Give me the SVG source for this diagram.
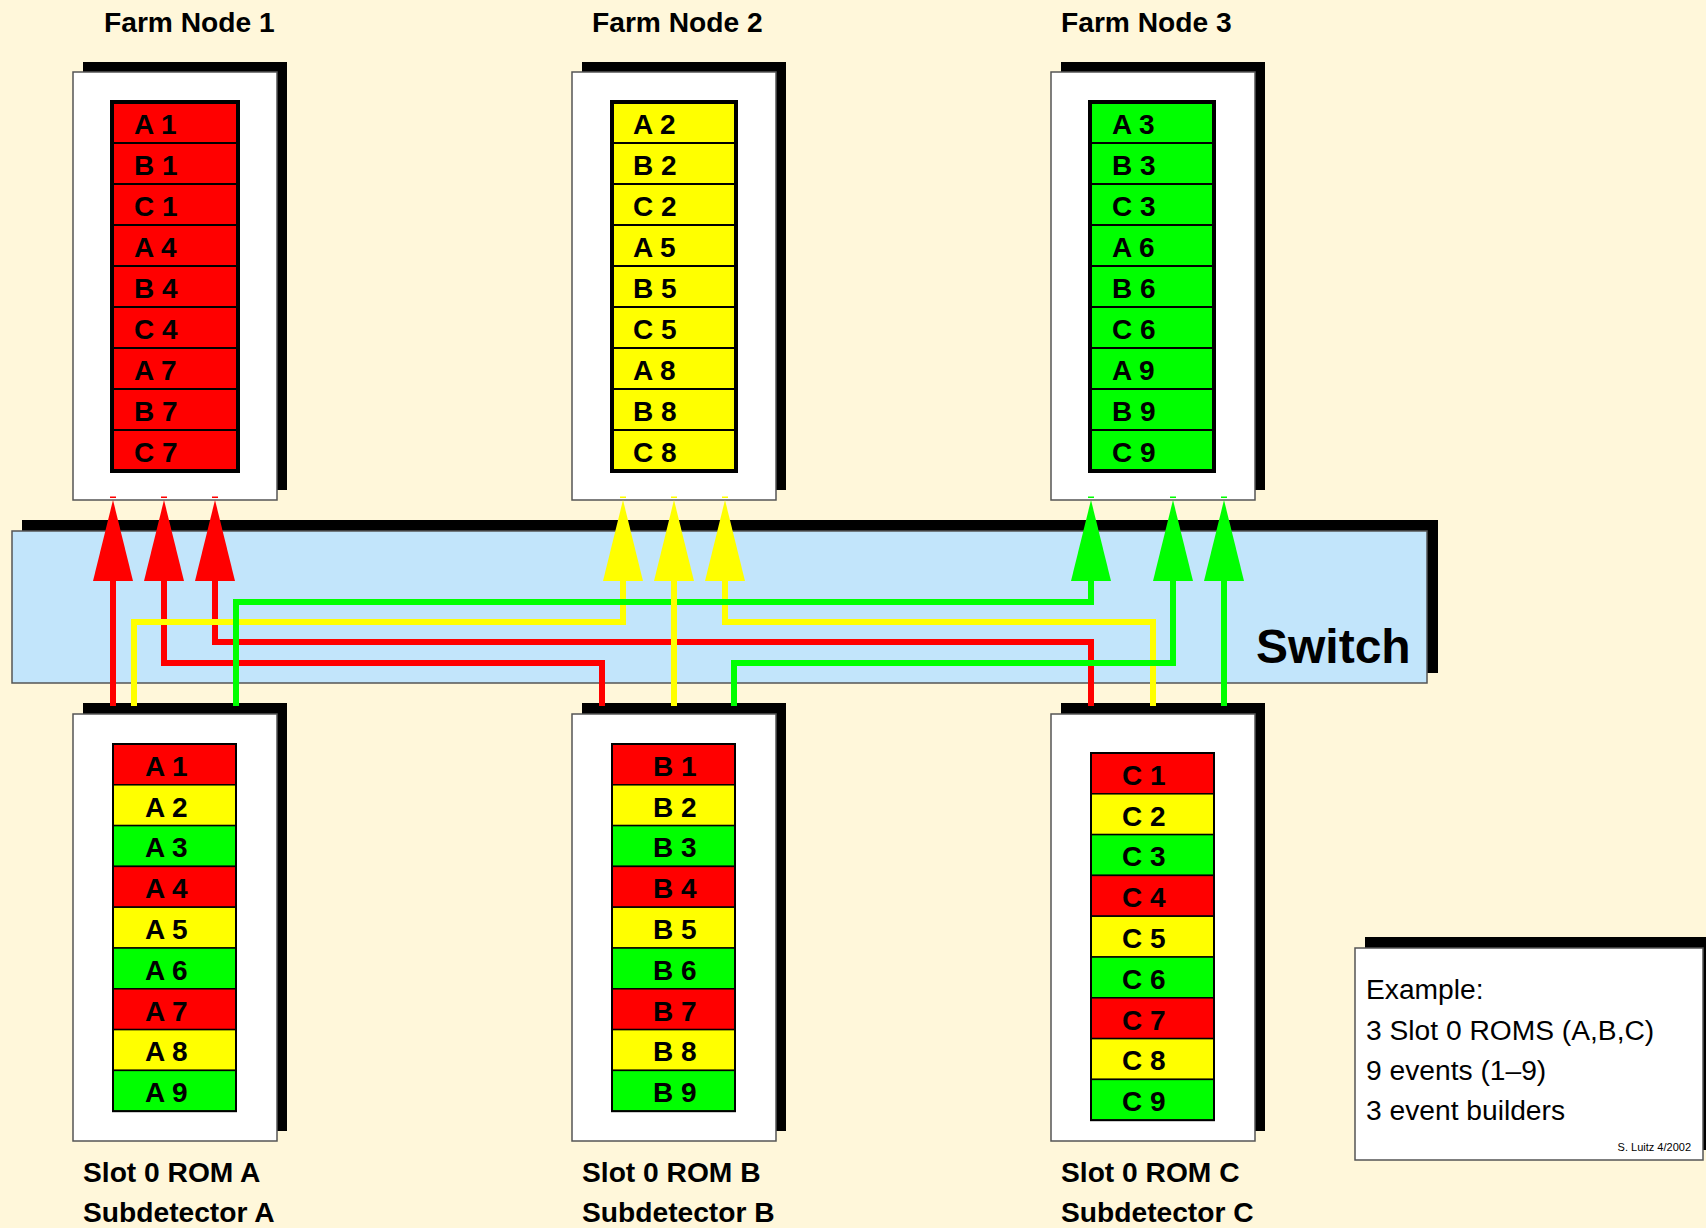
<svg xmlns="http://www.w3.org/2000/svg" width="1706" height="1228" viewBox="0 0 1706 1228">
<style>
.bg{fill:#FFF7DA}
.sh{fill:#000}
.box{fill:#fff;stroke:#555;stroke-width:1.5}
.lbl{font-family:"Liberation Sans",Arial,sans-serif;font-weight:bold;font-size:28.2px;fill:#000}
.cell{font-family:"Liberation Sans",Arial,sans-serif;font-weight:bold;font-size:28px;fill:#000}
.r{fill:#FF0000}.y{fill:#FFFF00}.g{fill:#00FF00}
.fr{stroke:#000;stroke-width:2}
.rr{stroke:#000;stroke-width:1.5}
.outer{fill:none;stroke:#000;stroke-width:4}
.outer2{fill:none;stroke:#000;stroke-width:2}
.lr{fill:none;stroke:#FF0000;stroke-width:6}
.ly{fill:none;stroke:#FFFF00;stroke-width:6}
.lg{fill:none;stroke:#00FF00;stroke-width:6}
.leg{font-family:"Liberation Sans",Arial,sans-serif;font-size:28.2px;fill:#000}
</style>
<rect class="bg" x="0" y="0" width="1706" height="1228"/>

<g id="switch">
<rect class="sh" x="22" y="520" width="1416" height="153"/>
<rect x="12" y="531" width="1415" height="152" fill="#C2E5FB" stroke="#555" stroke-width="1.5"/>
<text x="1256" y="663" font-family="Liberation Sans, Arial, sans-serif" font-weight="bold" font-size="48" fill="#000">Switch</text>
</g>

<g id="farm1">
<text class="lbl" x="104" y="32">Farm Node 1</text>
<rect class="sh" x="83" y="62" width="204" height="428"/>
<rect class="box" x="73" y="72" width="204" height="428"/>
<g class="fr">
<rect class="r" x="112" y="102" width="126" height="41"/>
<rect class="r" x="112" y="143" width="126" height="41"/>
<rect class="r" x="112" y="184" width="126" height="41"/>
<rect class="r" x="112" y="225" width="126" height="41"/>
<rect class="r" x="112" y="266" width="126" height="41"/>
<rect class="r" x="112" y="307" width="126" height="41"/>
<rect class="r" x="112" y="348" width="126" height="41"/>
<rect class="r" x="112" y="389" width="126" height="41"/>
<rect class="r" x="112" y="430" width="126" height="41"/>
</g>
<rect class="outer" x="112" y="102" width="126" height="369"/>
<g class="cell">
<text x="134" y="134">A 1</text><text x="134" y="175">B 1</text><text x="134" y="216">C 1</text>
<text x="134" y="257">A 4</text><text x="134" y="298">B 4</text><text x="134" y="339">C 4</text>
<text x="134" y="380">A 7</text><text x="134" y="421">B 7</text><text x="134" y="462">C 7</text>
</g>
</g>

<g id="farm2">
<text class="lbl" x="592" y="32">Farm Node 2</text>
<rect class="sh" x="582" y="62" width="204" height="428"/>
<rect class="box" x="572" y="72" width="204" height="428"/>
<g class="fr">
<rect class="y" x="612" y="102" width="124" height="41"/>
<rect class="y" x="612" y="143" width="124" height="41"/>
<rect class="y" x="612" y="184" width="124" height="41"/>
<rect class="y" x="612" y="225" width="124" height="41"/>
<rect class="y" x="612" y="266" width="124" height="41"/>
<rect class="y" x="612" y="307" width="124" height="41"/>
<rect class="y" x="612" y="348" width="124" height="41"/>
<rect class="y" x="612" y="389" width="124" height="41"/>
<rect class="y" x="612" y="430" width="124" height="41"/>
</g>
<rect class="outer" x="612" y="102" width="124" height="369"/>
<g class="cell">
<text x="633" y="134">A 2</text><text x="633" y="175">B 2</text><text x="633" y="216">C 2</text>
<text x="633" y="257">A 5</text><text x="633" y="298">B 5</text><text x="633" y="339">C 5</text>
<text x="633" y="380">A 8</text><text x="633" y="421">B 8</text><text x="633" y="462">C 8</text>
</g>
</g>

<g id="farm3">
<text class="lbl" x="1061" y="32">Farm Node 3</text>
<rect class="sh" x="1061" y="62" width="204" height="428"/>
<rect class="box" x="1051" y="72" width="204" height="428"/>
<g class="fr">
<rect class="g" x="1090" y="102" width="124" height="41"/>
<rect class="g" x="1090" y="143" width="124" height="41"/>
<rect class="g" x="1090" y="184" width="124" height="41"/>
<rect class="g" x="1090" y="225" width="124" height="41"/>
<rect class="g" x="1090" y="266" width="124" height="41"/>
<rect class="g" x="1090" y="307" width="124" height="41"/>
<rect class="g" x="1090" y="348" width="124" height="41"/>
<rect class="g" x="1090" y="389" width="124" height="41"/>
<rect class="g" x="1090" y="430" width="124" height="41"/>
</g>
<rect class="outer" x="1090" y="102" width="124" height="369"/>
<g class="cell">
<text x="1112" y="134">A 3</text><text x="1112" y="175">B 3</text><text x="1112" y="216">C 3</text>
<text x="1112" y="257">A 6</text><text x="1112" y="298">B 6</text><text x="1112" y="339">C 6</text>
<text x="1112" y="380">A 9</text><text x="1112" y="421">B 9</text><text x="1112" y="462">C 9</text>
</g>
</g>

<g id="romA">
<rect class="sh" x="83" y="703" width="204" height="428"/>
<rect class="box" x="73" y="714" width="204" height="427"/>
<g class="rr">
<rect class="r" x="113" y="744" width="123" height="40.8"/>
<rect class="y" x="113" y="784.8" width="123" height="40.8"/>
<rect class="g" x="113" y="825.6" width="123" height="40.8"/>
<rect class="r" x="113" y="866.4" width="123" height="40.8"/>
<rect class="y" x="113" y="907.2" width="123" height="40.8"/>
<rect class="g" x="113" y="948" width="123" height="40.8"/>
<rect class="r" x="113" y="988.8" width="123" height="40.8"/>
<rect class="y" x="113" y="1029.6" width="123" height="40.8"/>
<rect class="g" x="113" y="1070.4" width="123" height="40.8"/>
</g>
<rect class="outer2" x="113" y="744" width="123" height="367.2"/>
<g class="cell">
<text x="145" y="776">A 1</text><text x="145" y="817">A 2</text><text x="145" y="857">A 3</text>
<text x="145" y="898">A 4</text><text x="145" y="939">A 5</text><text x="145" y="980">A 6</text>
<text x="145" y="1021">A 7</text><text x="145" y="1061">A 8</text><text x="145" y="1102">A 9</text>
</g>
<text class="lbl" x="83" y="1182">Slot 0 ROM A</text>
<text class="lbl" x="83" y="1222">Subdetector A</text>
</g>

<g id="romB">
<rect class="sh" x="582" y="703" width="204" height="428"/>
<rect class="box" x="572" y="714" width="204" height="427"/>
<g class="rr">
<rect class="r" x="612" y="744" width="123" height="40.8"/>
<rect class="y" x="612" y="784.8" width="123" height="40.8"/>
<rect class="g" x="612" y="825.6" width="123" height="40.8"/>
<rect class="r" x="612" y="866.4" width="123" height="40.8"/>
<rect class="y" x="612" y="907.2" width="123" height="40.8"/>
<rect class="g" x="612" y="948" width="123" height="40.8"/>
<rect class="r" x="612" y="988.8" width="123" height="40.8"/>
<rect class="y" x="612" y="1029.6" width="123" height="40.8"/>
<rect class="g" x="612" y="1070.4" width="123" height="40.8"/>
</g>
<rect class="outer2" x="612" y="744" width="123" height="367.2"/>
<g class="cell">
<text x="653" y="776">B 1</text><text x="653" y="817">B 2</text><text x="653" y="857">B 3</text>
<text x="653" y="898">B 4</text><text x="653" y="939">B 5</text><text x="653" y="980">B 6</text>
<text x="653" y="1021">B 7</text><text x="653" y="1061">B 8</text><text x="653" y="1102">B 9</text>
</g>
<text class="lbl" x="582" y="1182">Slot 0 ROM B</text>
<text class="lbl" x="582" y="1222">Subdetector B</text>
</g>

<g id="romC">
<rect class="sh" x="1061" y="703" width="204" height="428"/>
<rect class="box" x="1051" y="714" width="204" height="427"/>
<g class="rr">
<rect class="r" x="1091" y="753" width="123" height="40.8"/>
<rect class="y" x="1091" y="793.8" width="123" height="40.8"/>
<rect class="g" x="1091" y="834.6" width="123" height="40.8"/>
<rect class="r" x="1091" y="875.4" width="123" height="40.8"/>
<rect class="y" x="1091" y="916.2" width="123" height="40.8"/>
<rect class="g" x="1091" y="957" width="123" height="40.8"/>
<rect class="r" x="1091" y="997.8" width="123" height="40.8"/>
<rect class="y" x="1091" y="1038.6" width="123" height="40.8"/>
<rect class="g" x="1091" y="1079.4" width="123" height="40.8"/>
</g>
<rect class="outer2" x="1091" y="753" width="123" height="367.2"/>
<g class="cell">
<text x="1122" y="785">C 1</text><text x="1122" y="826">C 2</text><text x="1122" y="866">C 3</text>
<text x="1122" y="907">C 4</text><text x="1122" y="948">C 5</text><text x="1122" y="989">C 6</text>
<text x="1122" y="1030">C 7</text><text x="1122" y="1070">C 8</text><text x="1122" y="1111">C 9</text>
</g>
<text class="lbl" x="1061" y="1182">Slot 0 ROM C</text>
<text class="lbl" x="1061" y="1222">Subdetector C</text>
</g>

<g id="legend">
<rect class="sh" x="1365" y="937" width="345" height="213"/>
<rect class="box" x="1355" y="948" width="348" height="212"/>
<text class="leg" x="1366" y="999">Example:</text>
<text class="leg" x="1366" y="1040">3 Slot 0 ROMS (A,B,C)</text>
<text class="leg" x="1366" y="1080">9 events (1–9)</text>
<text class="leg" x="1366" y="1120">3 event builders</text>
<text x="1691" y="1151" text-anchor="end" font-family="Liberation Sans, Arial, sans-serif" font-size="11" fill="#000">S. Luitz 4/2002</text>
</g>

<g id="connectors">
<polyline class="lr" points="113,706 113,578"/>
<polyline class="lr" points="602,706 602,663 164,663 164,578"/>
<polyline class="lr" points="1091,706 1091,642 215,642 215,578"/>
<polyline class="ly" points="134,706 134,622 623,622 623,578"/>
<polyline class="ly" points="1153,706 1153,622 725,622 725,578"/>
<polyline class="lg" points="236,706 236,602 1091,602 1091,578"/>
<polyline class="ly" points="674,706 674,578"/>
<polyline class="lg" points="734,706 734,663 1173,663 1173,578"/>
<polyline class="lg" points="1224,706 1224,578"/>
<g class="r">
<polygon points="93,581 133,581 113,500"/>
<polygon points="144,581 184,581 164,500"/>
<polygon points="195,581 235,581 215,500"/>
<rect x="110" y="496.5" width="6" height="1.5"/><rect x="161" y="496.5" width="6" height="1.5"/><rect x="212" y="496.5" width="6" height="1.5"/>
</g>
<g class="y">
<polygon points="603,581 643,581 623,500"/>
<polygon points="654,581 694,581 674,500"/>
<polygon points="705,581 745,581 725,500"/>
<rect x="620" y="496.5" width="6" height="1.5"/><rect x="671" y="496.5" width="6" height="1.5"/><rect x="722" y="496.5" width="6" height="1.5"/>
</g>
<g class="g">
<polygon points="1071,581 1111,581 1091,500"/>
<polygon points="1153,581 1193,581 1173,500"/>
<polygon points="1204,581 1244,581 1224,500"/>
<rect x="1088" y="496.5" width="6" height="1.5"/><rect x="1170" y="496.5" width="6" height="1.5"/><rect x="1221" y="496.5" width="6" height="1.5"/>
</g>
</g>
</svg>
